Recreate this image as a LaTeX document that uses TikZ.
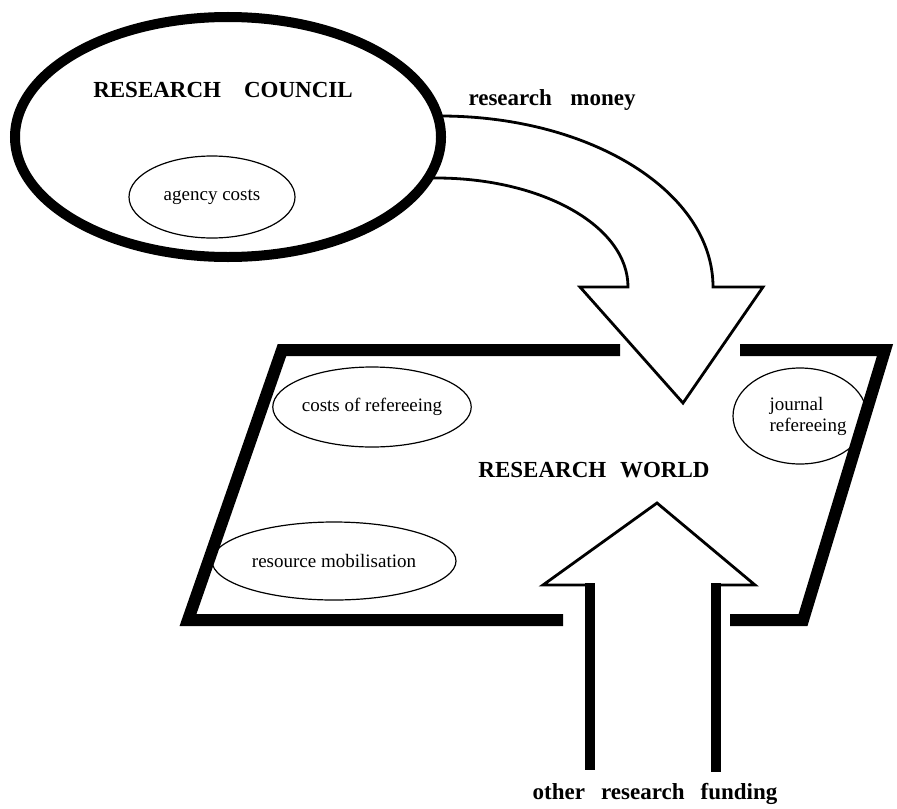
\documentclass[tikz,border=0pt]{standalone}
\usepackage{fontspec}
\setmainfont{Liberation Serif}
\usetikzlibrary{shapes.geometric}
\tikzset{
  bubble/.style={ellipse, draw=black, line width=0.6pt, inner sep=0pt, font=\fontsize{9.5}{10.5}\selectfont},
  heading/.style={font=\fontsize{11.5}{13}\selectfont\bfseries},
  wall/.style={line width=6pt, line join=miter, miter limit=10},
  blockarrow/.style={line width=1.4pt, line join=miter, miter limit=10},
  shaft/.style={line width=4.8pt}
}

\begin{document}
\begin{tikzpicture}[x=0.5pt, y=-0.5pt]
\useasboundingbox (0,0) rectangle (897,808);
\draw[blockarrow] (425,178) -- (436,178) .. controls (542,178) and (628,226) .. (628,287) -- (580,287) -- (683,403) -- (763,287) -- (713,287) .. controls (713,192) and (591,116) .. (440,116) -- (425,116);
\draw (228,137) node[ellipse, draw = black, fill = white, line width = 5pt, name = council, minimum width = 213pt, minimum height = 120pt]{};
\draw (223,90) node[heading, name = ctitle]{RESEARCH\hspace{1em}COUNCIL};
\draw (212,197) node[bubble, name = agency, minimum width = 83pt, minimum height = 41pt]{agency costs};
\draw (552,100) node[heading, name = money]{research\hspace{0.8em}money};
\draw[wall] (620,350) -- (282,350) -- (188,620) -- (563,620);
\draw[wall] (740,350) -- (885,350) -- (803,620) -- (730,620);
\draw (594,470) node[heading, name = world]{RESEARCH\hspace{0.6em}WORLD};
\draw (372,407) node[bubble, name = refcost, minimum width = 85pt, minimum height = 40pt]{costs of refereeing};
\draw (334,561) node[bubble, name = resmob, minimum width = 122pt, minimum height = 39pt]{resource mobilisation};
\draw (800,416) node[bubble, name = jref, minimum width = 67pt, minimum height = 48pt, align = left]{\hspace*{8pt}journal\\\hspace*{8pt}refereeing};
\draw[blockarrow] (590,585) -- (543,585) -- (657,503) -- (755,585) -- (716,585);
\draw[shaft] (590,583) -- (590,770);
\draw[shaft] (716,583) -- (716,772);
\draw (655,794) node[heading, name = funding]{other\hspace{0.7em}research\hspace{0.7em}funding};
\end{tikzpicture}
\end{document}
